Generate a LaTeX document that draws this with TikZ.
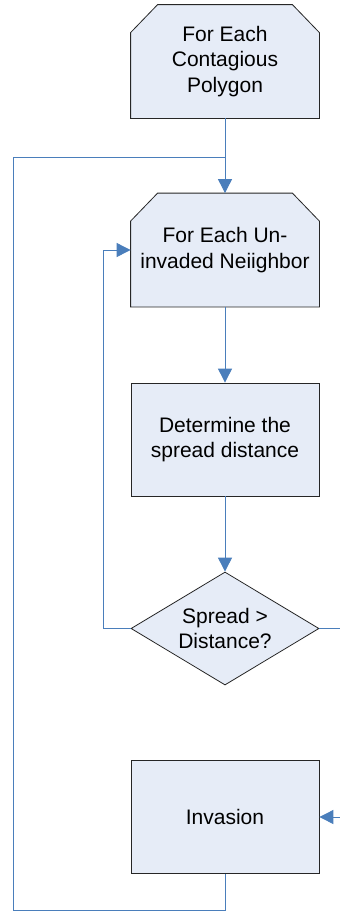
\documentclass[tikz,border=0pt]{standalone}
\usepackage{fontspec}
\setmainfont{Liberation Sans}
\usetikzlibrary{shapes.geometric,arrows.meta,calc,backgrounds}
\definecolor{boxfill}{RGB}{230,236,247}
\definecolor{linkblue}{RGB}{74,126,187}
\newcommand{\chamferbox}[1]{%
  \begin{scope}[on background layer]
  \filldraw[boxline] (#1.south west) -- ($(#1.north west)+(0,28)$) -- ($(#1.north west)+(27,0)$) -- ($(#1.north east)+(-27,0)$) -- ($(#1.north east)+(0,28)$) -- (#1.south east) -- cycle;
  \end{scope}}
\begin{document}
\begin{tikzpicture}[x=1pt,y=-1pt,
 boxline/.style={draw=black!85, line width=0.8pt, fill=boxfill},
 base/.style={boxline, font=\fontsize{21}{25.7}\selectfont, align=center, inner sep=0pt},
 procbox/.style={base, rectangle, minimum width=188pt, minimum height=113pt},
 loopbox/.style={base, rectangle, draw=none, fill=none, minimum width=188pt, minimum height=113pt},
 decision/.style={base, diamond, aspect=1.664, minimum width=188pt, minimum height=113pt},
 link/.style={draw=linkblue, line width=0.9pt},
 arr/.style={link, -{Triangle[length=14pt,width=14pt]}}
]
\useasboundingbox (0,0) rectangle (340,911);
\node[loopbox] (each) at (225,61.5) {For Each\\Contagious\\Polygon};
\chamferbox{each}
\node[loopbox] (neigh) at (225,250) {For Each Un-\\invaded Neiighbor};
\chamferbox{neigh}
\node[procbox] (dist) at (225,439.5) {Determine the\\spread distance};
\node[decision] (dec) at (225,628.5) {Spread >\\Distance?};
\node[procbox] (inv) at (225,817) {Invasion};
\coordinate (j1) at (225,157);
\coordinate (c1) at (225,910);
\coordinate (c2) at (13,910);
\coordinate (c3) at (13,157);
\coordinate (l2) at (103,250);
\coordinate (r1) at (341,628.5);
\coordinate (r2) at (341,817);
\draw[arr] (each.south) -- (neigh.north);
\draw[link] (inv.south) -- (c1) -- (c2) -- (c3) -- (j1);
\draw[arr] (neigh.south) -- (dist.north);
\draw[arr] (dist.south) -- (dec.north);
\draw[arr] (dec.west) -| (l2) -- (neigh.west);
\draw[link] (dec.east) -- (r1);
\draw[arr] (r2) -- (inv.east);
\end{tikzpicture}
\end{document}
